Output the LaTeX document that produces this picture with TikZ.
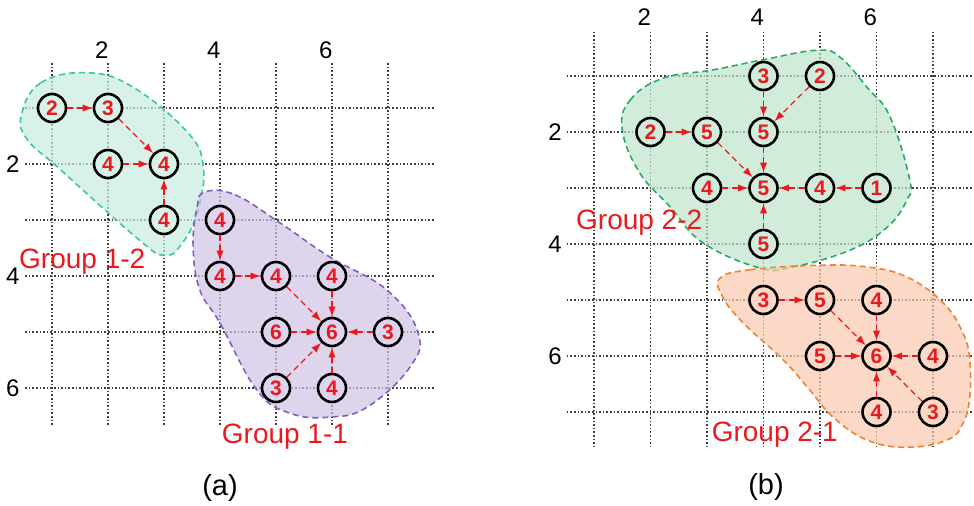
\documentclass[tikz,border=0pt]{standalone}
\usepackage{fontspec}
\setmainfont{Liberation Sans}
\usetikzlibrary{arrows.meta}
\definecolor{numred}{RGB}{235,25,30}
\definecolor{fillmint}{RGB}{200,236,224}
\definecolor{edgemint}{RGB}{60,200,160}
\definecolor{filllilac}{RGB}{208,194,226}
\definecolor{edgelilac}{RGB}{128,96,192}
\definecolor{fillgreen}{RGB}{190,228,203}
\definecolor{edgegreen}{RGB}{40,170,100}
\definecolor{fillpeach}{RGB}{249,201,174}
\definecolor{edgepeach}{RGB}{240,130,50}
\begin{document}
\begin{tikzpicture}[
		x=0.5pt, y=-0.5pt,
		every node/.style={font=\fontsize{12}{14}\selectfont},
		gridline/.style={densely dotted, line width=0.8pt, black!75},
		blob/.style={densely dashed, line width=0.8pt, fill opacity=0.7},
		num/.style={circle, draw=black, line width=1.3pt, minimum size=14pt, inner sep=0pt,
			text=numred, font=\bfseries\fontsize{10.5}{11}\selectfont},
		link/.style={densely dashed, numred, line width=0.6pt, -{Latex[length=5pt,width=3.6pt]}},
		grp/.style={text=numred, font=\fontsize{14}{16}\selectfont},
		panelcap/.style={font=\fontsize{14.5}{16}\selectfont}
	]
	\useasboundingbox (0,0) rectangle (974,505);
	% (a)
	\begin{scope}[shift={(-4,52)}, x=28pt, y=-28pt]
		\foreach \c in {1,...,7} \draw[gridline] (\c,0.2) -- (\c,6.66);
		\foreach \r in {1,...,6} \draw[gridline] (0.52,\r) -- (7.84,\r);
		\foreach \v in {2,4,6} {
			\node at (\v-0.11,-0.04) {\v};
			\node at (0.3,\v) {\v};
		}
		\filldraw[blob, draw=edgemint, fill=fillmint] plot[smooth cycle, tension=0.7] coordinates {
			(0.46,1.1) (0.8,0.55) (1.6,0.37) (2.4,0.6) (3.38,1.39) (3.7,2.02)
			(3.6,2.85) (3.3,3.45) (3.0,3.63) (2.55,3.35) (1.15,2.1) (0.55,1.55)};
		\filldraw[blob, draw=edgelilac, fill=filllilac] plot[smooth cycle, tension=0.7] coordinates {
			(3.73,2.5) (4.27,2.55) (5.07,3.05) (5.96,3.66) (6.98,4.25) (7.54,5.02)
			(7.39,5.63) (6.63,6.34) (5.96,6.52) (5.25,6.45) (4.66,6.04) (4.0,4.84)
			(3.64,4.25) (3.52,3.48) (3.59,2.77)};
		% group 1-2
		\node[num, fill=fillmint!70] (a11) at (1,1) {2};
		\node[num, fill=fillmint!70] (a21) at (2,1) {3};
		\node[num, fill=fillmint!70] (a22) at (2,2) {4};
		\node[num, fill=fillmint!70] (a32) at (3,2) {4};
		\node[num, fill=fillmint!70] (a33) at (3,3) {4};
		% group 1-1
		\node[num, fill=filllilac!70] (a43) at (4,3) {4};
		\node[num, fill=filllilac!70] (a44) at (4,4) {4};
		\node[num, fill=filllilac!70] (a54) at (5,4) {4};
		\node[num, fill=filllilac!70] (a64) at (6,4) {4};
		\node[num, fill=filllilac!70] (a55) at (5,5) {6};
		\node[num, fill=filllilac!70] (a65) at (6,5) {6};
		\node[num, fill=filllilac!70] (a75) at (7,5) {3};
		\node[num, fill=filllilac!70] (a56) at (5,6) {3};
		\node[num, fill=filllilac!70] (a66) at (6,6) {4};
		\foreach \s/\t in {a11/a21, a21/a32, a22/a32, a33/a32,
			a43/a44, a44/a54, a54/a65, a64/a65, a55/a65, a75/a65, a56/a65, a66/a65}
			\draw[link] (\s) -- (\t);
		\node[grp] (g12) at (1.54,3.75) {Group 1-2};
		\node[grp] (g11) at (5.16,6.87) {Group 1-1};
	\end{scope}
	\node[panelcap] (capa) at (220,488) {(a)};
	% (b)
	\begin{scope}[shift={(537.5,20)}, x=28.25pt, y=-28pt]
		\foreach \c in {1,...,7} \draw[gridline] (\c,0.21) -- (\c,7.62);
		\foreach \r in {1,...,7} \draw[gridline] (0.52,\r) -- (7.73,\r);
		\foreach \v in {2,4,6} {
			\node at (\v-0.11,-0.05) {\v};
			\node at (0.31,\v) {\v};
		}
		\filldraw[blob, draw=edgegreen, fill=fillgreen] plot[smooth cycle, tension=0.7] coordinates {
			(1.5,1.96) (1.64,1.43) (2.22,1.04) (3.11,0.89) (3.99,0.71) (4.95,0.54)
			(5.35,0.66) (5.83,1.2) (6.24,1.73) (6.59,2.86) (6.54,3.21) (6.19,3.7)
			(5.53,4.11) (4.52,4.41) (3.94,4.43) (2.93,3.98) (2.35,3.34) (1.81,2.73)};
		\filldraw[blob, draw=edgepeach, fill=fillpeach] plot[smooth cycle, tension=0.7] coordinates {
			(3.23,4.61) (3.76,4.46) (4.95,4.38) (5.83,4.41) (6.54,4.59) (7.18,5.05)
			(7.53,5.59) (7.65,6.07) (7.65,6.73) (7.53,7.2) (7.25,7.5) (6.54,7.63)
			(5.83,7.5) (5.23,7.09) (4.82,6.61) (4.35,6.07) (3.64,5.41) (3.28,4.95)};
		% group 2-2
		\node[num, fill=fillgreen!70] (b41) at (4,1) {3};
		\node[num, fill=fillgreen!70] (b51) at (5,1) {2};
		\node[num, fill=fillgreen!70] (b22) at (2,2) {2};
		\node[num, fill=fillgreen!70] (b32) at (3,2) {5};
		\node[num, fill=fillgreen!70] (b42) at (4,2) {5};
		\node[num, fill=fillgreen!70] (b33) at (3,3) {4};
		\node[num, fill=fillgreen!70] (b43) at (4,3) {5};
		\node[num, fill=fillgreen!70] (b53) at (5,3) {4};
		\node[num, fill=fillgreen!70] (b63) at (6,3) {1};
		\node[num, fill=fillgreen!70] (b44) at (4,4) {5};
		% group 2-1
		\node[num, fill=fillpeach!70] (b45) at (4,5) {3};
		\node[num, fill=fillpeach!70] (b55) at (5,5) {5};
		\node[num, fill=fillpeach!70] (b65) at (6,5) {4};
		\node[num, fill=fillpeach!70] (b56) at (5,6) {5};
		\node[num, fill=fillpeach!70] (b66) at (6,6) {6};
		\node[num, fill=fillpeach!70] (b76) at (7,6) {4};
		\node[num, fill=fillpeach!70] (b67) at (6,7) {4};
		\node[num, fill=fillpeach!70] (b77) at (7,7) {3};
		\foreach \s/\t in {b41/b42, b51/b42, b22/b32, b32/b43, b42/b43, b33/b43, b53/b43, b63/b53, b44/b43,
			b45/b55, b55/b66, b65/b66, b56/b66, b76/b66, b67/b66, b77/b66}
			\draw[link] (\s) -- (\t);
		\node[grp] (g22) at (1.8,3.62) {Group 2-2};
		\node[grp] (g21) at (4.2,7.4) {Group 2-1};
	\end{scope}
	\node[panelcap] (capb) at (766,487) {(b)};
\end{tikzpicture}
\end{document}
